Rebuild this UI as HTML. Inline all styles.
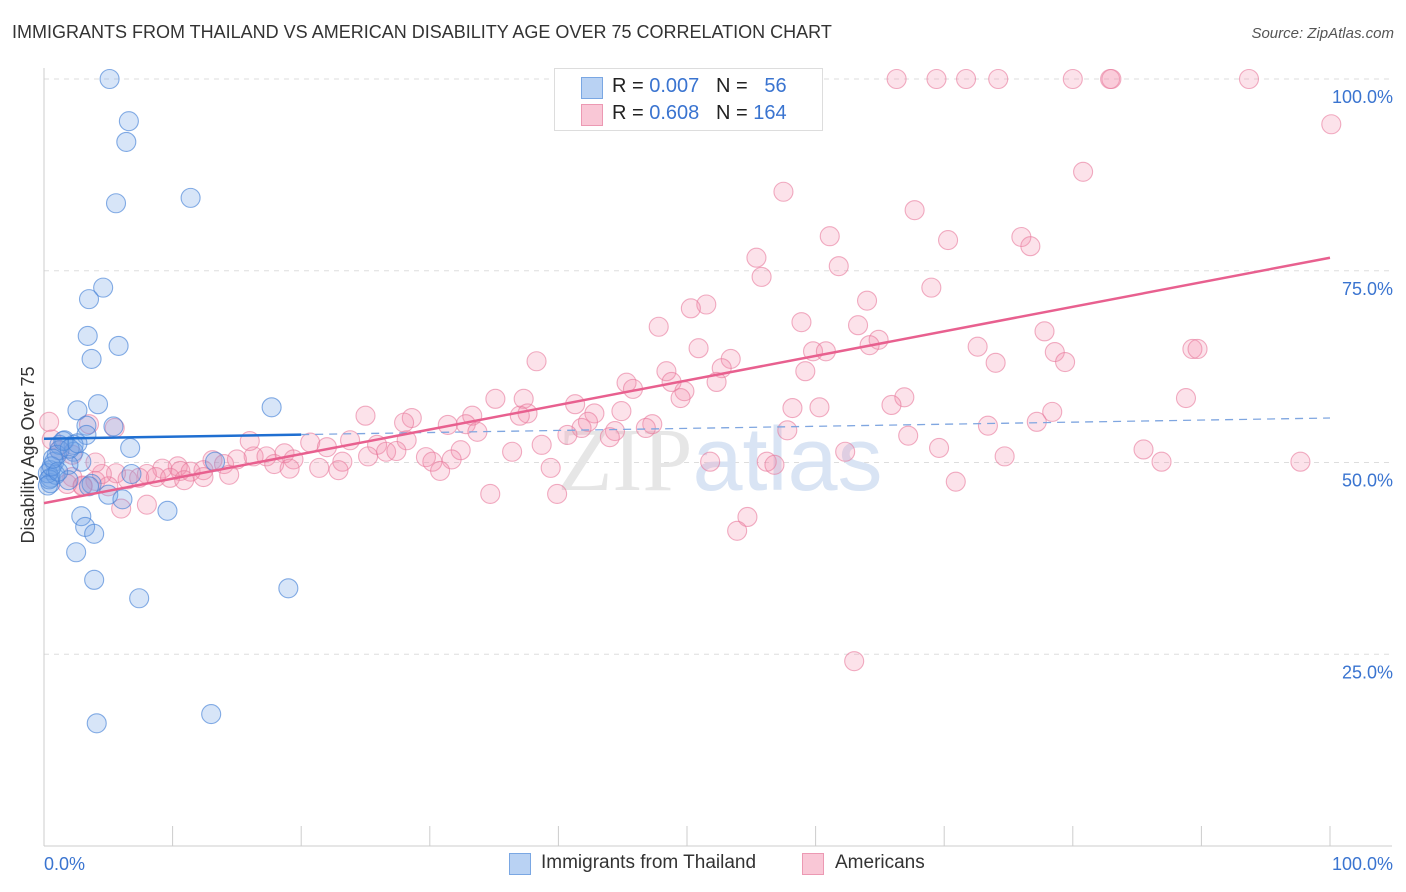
<!DOCTYPE html>
<html><head><meta charset="utf-8">
<style>
body{margin:0;background:#fff;font-family:"Liberation Sans",sans-serif;}
#wrap{position:relative;width:1406px;height:892px;overflow:hidden;}
.t{position:absolute;white-space:nowrap;}
</style></head>
<body>
<div id="wrap">
<div class="t" style="left:12px;top:22px;font-size:18px;color:#333;">IMMIGRANTS FROM THAILAND VS AMERICAN DISABILITY AGE OVER 75 CORRELATION CHART</div>
<div class="t" style="right:12px;top:25px;font-size:15px;color:#555;font-style:italic;">Source: ZipAtlas.com</div>
<svg id="svg" width="1406" height="892" style="position:absolute;left:0;top:0"></svg>
</div>
<script>
const xTicks=["0.0%","100.0%"];
const yTickVals=[25,50,75,100];
const yTickLabels=["25.0%","50.0%","75.0%","100.0%"];
const blueX=[5.1,6.6,6.4,5.6,11.4,4.6,3.5,3.4,5.8,3.7,2.6,4.2,17.7,3.3,5.4,3.3,1.6,2.3,1.2,2.3,6.7,0.8,2.9,1.9,0.5,0.5,0.5,0.9,1.9,3.7,6.8,5.0,6.1,3.5,2.9,9.6,3.2,3.9,2.5,3.9,19.0,7.4,13.0,4.1,13.3,1.2,1.0,0.3,0.4,0.6,1.5,2.0,0.3,1.1,2.6,0.7];
const blueY=[100,94.5,91.8,83.8,84.5,72.8,71.3,66.5,65.2,63.5,56.8,57.6,57.2,54.8,54.7,53.6,52.9,52.3,51.6,51.4,51.9,50.1,50.1,49.7,49.0,48.0,47.3,48.4,47.7,47.2,48.5,45.8,45.2,46.9,43.0,43.7,41.6,40.7,38.3,34.7,33.6,32.3,17.2,16.0,50.1,52.3,51.0,48.6,47.8,49.5,52.8,51.8,47.0,48.8,52.5,50.5];
const pinkX=[66.3,69.4,71.7,74.2,80.0,82.9,83.0,93.7,100.1,80.8,57.5,67.7,61.1,70.3,76.0,76.7,55.4,61.8,55.8,69.0,64.0,51.5,50.3,58.9,63.3,77.8,47.8,64.9,50.9,64.2,72.6,89.3,89.7,59.8,60.8,78.6,53.4,38.3,79.4,74.0,52.7,48.4,59.2,48.8,52.3,45.3,45.8,49.8,49.5,66.9,37.3,35.1,88.8,41.3,65.9,60.3,58.2,78.4,37.6,44.9,33.3,37.0,25.0,42.8,28.6,77.2,47.3,28.0,31.4,42.3,41.8,73.4,32.8,46.8,57.8,44.4,33.7,44.0,67.2,40.7,28.2,23.8,25.9,38.7,20.7,22.0,69.6,85.5,32.4,26.6,25.2,27.4,18.7,36.4,62.3,16.3,15.0,17.3,19.4,23.2,29.7,30.2,31.7,74.7,86.9,97.7,51.8,56.2,56.8,13.1,14.0,17.9,12.4,10.4,9.2,10.6,11.4,8.0,5.6,19.1,21.4,22.9,39.4,30.8,6.5,7.4,8.7,9.8,10.9,12.4,14.4,4.0,5.0,3.0,2.2,70.9,34.7,39.9,54.7,53.9,63.0,0.4,1.2,2.2,0.6,3.0,4.5,1.8,16.0,4.0,8.0,6.0,3.5,5.5];
const pinkY=[100,100,100,100,100,100,100,100,94.1,87.9,85.3,82.9,79.5,79.0,79.4,78.2,76.7,75.6,74.2,72.8,71.1,70.6,70.1,68.3,67.9,67.1,67.7,66.0,64.9,65.3,65.1,64.8,64.8,64.5,64.5,64.4,63.5,63.2,63.1,63.0,62.3,61.9,61.9,60.5,60.5,60.4,59.6,59.3,58.4,58.5,58.3,58.3,58.4,57.6,57.5,57.2,57.1,56.6,56.4,56.7,56.1,56.1,56.1,56.4,55.8,55.3,55.0,55.2,54.9,55.3,54.5,54.8,55.0,54.5,54.2,54.1,54.0,53.3,53.5,53.6,52.9,52.9,52.3,52.3,52.6,52.0,51.9,51.7,51.6,51.4,50.8,51.5,51.2,51.4,51.4,50.8,50.4,50.8,50.4,50.1,50.7,50.1,50.4,50.8,50.1,50.1,50.1,50.1,49.7,50.3,49.8,49.8,49.0,49.5,49.2,48.9,48.8,48.5,48.6,49.2,49.3,49.0,49.3,48.9,47.8,48.0,48.1,48.0,47.7,48.1,48.4,47.6,46.9,46.9,48.1,47.5,45.9,45.9,42.9,41.1,24.1,55.3,51.6,51.0,53.0,47.0,48.5,47.2,52.8,50.0,44.5,44.0,55.0,54.5];
const blueTrend=[53.1,55.8];
const pinkTrend=[44.7,76.7];
const svg=document.getElementById('svg');
const NS='http://www.w3.org/2000/svg';
const X=v=>44+v*12.86, Y=v=>846-v*7.67;
function mk(t,a){const e=document.createElementNS(NS,t);for(const k in a)e.setAttribute(k,a[k]);svg.appendChild(e);return e;}
yTickVals.forEach((v,i)=>{
 const g=mk('line',{x1:44,x2:1392,y1:Y(v),y2:Y(v),stroke:'#ddd','stroke-dasharray':'5,5'});
 
 
 const t=mk('text',{x:1393,y:Y(v)+24,'text-anchor':'end','font-size':18,fill:'#3a74d0','font-family':'Liberation Sans'});
 t.textContent=yTickLabels[i];
 
 
});
const ax=mk('line',{x1:44,x2:44,y1:68,y2:846,stroke:'#ccc'});


const axx=mk('line',{x1:44,x2:1392,y1:846,y2:846,stroke:'#ccc'});


for(let i=0;i<=10;i++){
 const tk=mk('line',{x1:X(i*10),x2:X(i*10),y1:826,y2:846,stroke:'#ccc'});
 
 
}
const xl0=mk('text',{x:44,y:870,'font-size':18,fill:'#3a74d0','font-family':'Liberation Sans'});xl0.textContent=xTicks[0];


const xl1=mk('text',{x:1393,y:870,'text-anchor':'end','font-size':18,fill:'#3a74d0','font-family':'Liberation Sans'});xl1.textContent=xTicks[1];


const yt=mk('text',{x:0,y:0,transform:'translate(34,455) rotate(-90)','text-anchor':'middle','font-size':18,fill:'#333','font-family':'Liberation Sans'});yt.textContent='Disability Age Over 75';


const wm=mk('text',{x:720,y:490,'text-anchor':'middle','font-size':90,'font-family':'Liberation Serif',fill:'#e6e6e6'});
wm.innerHTML='ZIP<tspan fill="#d9e4f4" font-family="Liberation Sans">atlas</tspan>';


pinkX.forEach((x,i)=>{const c=mk('circle',{cx:X(x),cy:Y(pinkY[i]),r:9.5,fill:'rgba(242,140,170,0.25)',stroke:'rgba(232,120,155,0.6)','stroke-width':1.1});
 
 });
blueX.forEach((x,i)=>{const c=mk('circle',{cx:X(x),cy:Y(blueY[i]),r:9.5,fill:'rgba(110,160,230,0.28)',stroke:'rgba(70,130,215,0.65)','stroke-width':1.1});
 
 });
const bt=v=>blueTrend[0]+(blueTrend[1]-blueTrend[0])*v/100;
const l1=mk('line',{x1:X(0),y1:Y(bt(0)),x2:X(20),y2:Y(bt(20)),stroke:'#1f6fd1','stroke-width':2.5});


const l2=mk('line',{x1:X(20),y1:Y(bt(20)),x2:X(100),y2:Y(bt(100)),stroke:'#7fa6e0','stroke-width':1.3,'stroke-dasharray':'8,6'});


const l3=mk('line',{x1:X(0),y1:Y(pinkTrend[0]),x2:X(100),y2:Y(pinkTrend[1]),stroke:'#e8608f','stroke-width':2.5});


</script>
<div style="position:absolute;left:554px;top:68px;width:267px;height:61px;border:1px solid #ddd;background:#fff;font-size:20px;color:#222;">
 <div style="position:absolute;left:26px;top:8px;width:20px;height:20px;background:#b9d2f3;border:1px solid #7aa7e3"></div>
 <div class="t" style="left:57px;top:6px">R = <span style="color:#3a74d0">0.007</span>&nbsp;&nbsp;&nbsp;N = &nbsp;&nbsp;<span style="color:#3a74d0">56</span></div>
 <div style="position:absolute;left:26px;top:35px;width:20px;height:20px;background:#f9c7d6;border:1px solid #ec99b3"></div>
 <div class="t" style="left:57px;top:33px">R = <span style="color:#3a74d0">0.608</span>&nbsp;&nbsp;&nbsp;N = <span style="color:#3a74d0">164</span></div>
</div>
<div style="position:absolute;left:509px;top:852px;font-size:19px;color:#333;">
 <div style="position:absolute;left:0;top:0;width:300px"><div style="position:absolute;left:0;top:1px;width:20px;height:20px;background:#b9d2f3;border:1px solid #7aa7e3"></div><span class="t" style="left:32px;top:0">Immigrants from Thailand</span></div>
 <div style="position:absolute;left:293px;top:0;width:200px"><div style="position:absolute;left:0;top:1px;width:20px;height:20px;background:#f9c7d6;border:1px solid #ec99b3"></div><span class="t" style="left:33px;top:0">Americans</span></div>
</div>
</body></html>
